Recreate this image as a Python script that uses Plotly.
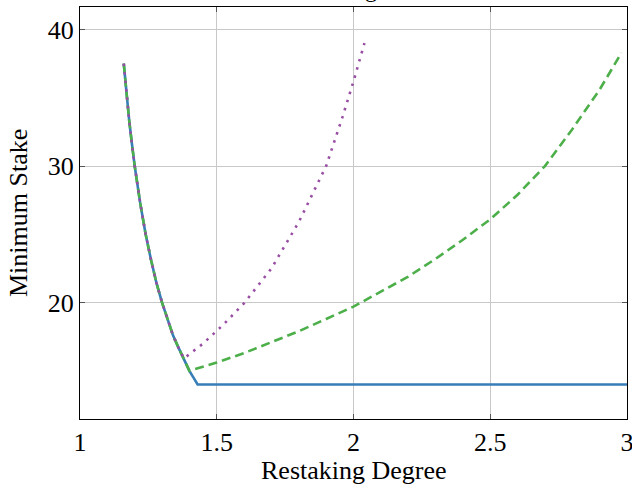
import plotly.graph_objects as go

# Shared descending branch
decline_x = [1.16, 1.17, 1.18, 1.19, 1.20, 1.22, 1.24, 1.26, 1.28, 1.30, 1.32, 1.34, 1.36, 1.38, 1.40]
decline_y = [37.5, 35.3, 33.3, 31.6, 30.0, 27.3, 25.0, 23.1, 21.4, 20.0, 18.75, 17.6, 16.7, 15.8, 15.0]

# Blue solid: continues down to floor, then flat
blue_tail_x = [1.415, 1.43, 3.0]
blue_tail_y = [14.5, 14.0, 14.0]

# Green dashed: rises from x=1.40
green_tail_x = [1.50, 1.60, 1.70, 1.80, 1.90, 2.00, 2.10, 2.20, 2.30, 2.40, 2.50, 2.60, 2.70, 2.80, 2.90, 2.98]
green_tail_y = [15.6, 16.3, 17.1, 17.9, 18.8, 19.7, 20.8, 21.9, 23.2, 24.6, 26.1, 27.9, 30.0, 32.7, 35.6, 38.3]

# Purple dotted: descends to x=1.38, then rises
purple_x = [1.16, 1.17, 1.18, 1.19, 1.20, 1.22, 1.24, 1.26, 1.28, 1.30, 1.32, 1.34, 1.36, 1.38]
purple_y = [37.5, 35.3, 33.3, 31.6, 30.0, 27.3, 25.0, 23.1, 21.4, 20.0, 18.75, 17.6, 16.7, 15.9]
purple_tail_x = [1.45, 1.52, 1.60, 1.70, 1.80, 1.90, 1.96, 2.00, 2.04]
purple_tail_y = [17.0, 18.3, 19.95, 22.5, 25.9, 30.0, 33.6, 36.2, 39.0]

x_ticks = [1, 1.5, 2, 2.5, 3]
x_tick_text = ["1", "1.5", "2", "2.5", "3"]
y_ticks = [20, 30, 40]

BLUE = "#377eb8"
GREEN = "#4daf4a"
PURPLE = "#984ea3"
FONT = "Liberation Serif"
FS = 26

fig = go.Figure()
fig.add_trace(go.Scatter(x=decline_x + blue_tail_x, y=decline_y + blue_tail_y,
                         mode="lines", line=dict(color=BLUE, width=2.6),
                         showlegend=False))
fig.add_trace(go.Scatter(x=decline_x + green_tail_x, y=decline_y + green_tail_y,
                         mode="lines", line=dict(color=GREEN, width=2.6, dash="9px,5px"),
                         showlegend=False))
fig.add_trace(go.Scatter(x=purple_x + purple_tail_x, y=purple_y + purple_tail_y,
                         mode="lines", line=dict(color=PURPLE, width=2.6, dash="2.5px,6px"),
                         showlegend=False))

axis_common = dict(
    showline=True, linecolor="black", linewidth=1.3, mirror="allticks",
    showgrid=True, gridcolor="#c8c8c8", gridwidth=1,
    ticks="inside", ticklen=5, tickcolor="#555555", tickwidth=1,
    zeroline=False, automargin=False, ticklabeloverflow="allow",
    tickfont=dict(family=FONT, size=FS, color="black"),
)

fig.update_xaxes(range=[1, 3], tickvals=x_ticks, ticktext=x_tick_text, **axis_common)
fig.update_yaxes(range=[11.47, 41.65], tickvals=y_ticks, **axis_common)

# Axis titles placed as annotations
fig.add_annotation(text="Restaking Degree", xref="paper", yref="paper", x=0.5, y=0,
                   xanchor="center", yanchor="middle", yshift=-51, showarrow=False,
                   font=dict(family=FONT, size=FS, color="black"))
fig.add_annotation(text="Minimum Stake", xref="paper", yref="paper", x=0, y=0.5,
                   xanchor="center", yanchor="middle", xshift=-62, textangle=-90,
                   showarrow=False, font=dict(family=FONT, size=FS, color="black"))

# Title, mostly above the visible area
fig.add_annotation(text="Restaking", xref="paper", yref="paper", x=0.455, y=1,
                   xanchor="center", yanchor="bottom", yshift=3, showarrow=False,
                   font=dict(family=FONT, size=24, color="black"))

fig.update_layout(
    width=640, height=491,
    margin=dict(l=80, r=13, t=7, b=72),
    paper_bgcolor="white", plot_bgcolor="white",
    font=dict(family=FONT, size=FS, color="black"),
)

fig.write_html("out.html", config={"displayModeBar": False},
               post_script="document.body.style.margin='0';document.body.style.overflow='hidden';")
